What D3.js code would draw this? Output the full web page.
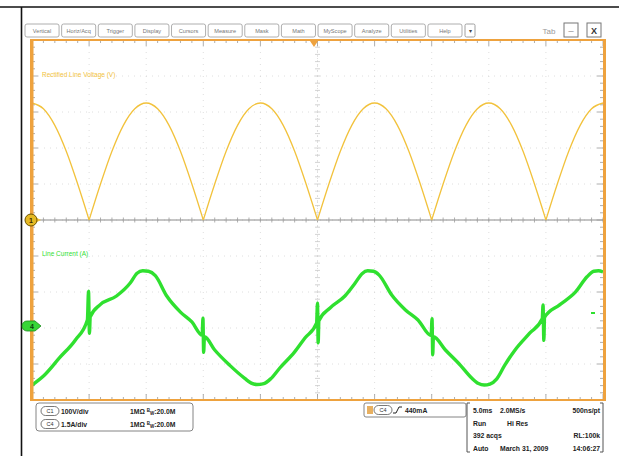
<!DOCTYPE html>
<html>
<head>
<meta charset="utf-8">
<script src="https://cdn.jsdelivr.net/npm/d3@7"></script>
<style>
  html, body { margin: 0; padding: 0; background: #fff; }
  svg { display: block; font-family: "Liberation Sans", Arial, sans-serif; }
</style>
</head>
<body>
<svg id="scope" width="619" height="456"></svg>
<script>
// ---- menu tabs ----
const tabLabels = ["Vertical", "Horiz/Acq", "Trigger", "Display", "Cursors", "Measure",
                   "Mask", "Math", "MyScope", "Analyze", "Utilities", "Help"];

// ---- channel 1: rectified line voltage (V), sampled every 1 ms ----
const ch1Time = d3.range(-25, 26, 1);
const ch1Volts = [
  325, 309, 263, 191, 100, 0, 100, 191, 263, 309,
  325, 309, 263, 191, 100, 0, 100, 191, 263, 309,
  325, 309, 263, 191, 100, 0, 100, 191, 263, 309,
  325, 309, 263, 191, 100, 0, 100, 191, 263, 309,
  325, 309, 263, 191, 100, 0, 100, 191, 263, 309,
  325
];

// ---- channel 4: line current (A) with switching glitches ----
const ch4Time = [
  -25.0, -23.9, -22.6, -21.2, -20.15, -20.05, -19.97, -19.9, -19.05, -17.6, -16.4, -15.8, -15.3,
  -14.8, -14.2, -13.2, -12.0, -11.0, -10.1, -10.03, -9.97, -9.9, -9.0, -7.7, -6.4, -5.8, -5.3,
  -4.7, -4.1, -3.3, -2.0, -1.1, -0.08, 0.0, 0.06, 0.12, 1.1, 2.4, 3.3, 3.9, 4.4,
  4.9, 5.4, 6.5, 7.7, 8.8, 9.95, 10.03, 10.09, 10.15, 11.2, 12.5, 13.5, 14.1, 14.6,
  15.1, 15.7, 16.4, 17.3, 18.6, 19.68, 19.75, 19.82, 19.88, 21.2, 22.6, 23.6, 24.2, 24.6, 25.0
];
const ch4Amps = [
  -2.46, -2.04, -1.33, -0.58, 0.25, 1.45, -0.30, 0.38, 0.88, 1.25, 1.79, 2.20, 2.30,
  2.28, 2.10, 1.25, 0.58, 0.17, -0.38, 0.33, -1.10, -0.45, -1.00, -1.63, -2.17, -2.38, -2.44,
  -2.40, -2.20, -1.75, -1.08, -0.50, 0.12, 0.95, -0.70, 0.22, 0.75, 1.25, 1.79, 2.18, 2.30,
  2.28, 2.12, 1.29, 0.67, 0.25, -0.40, 0.30, -1.20, -0.45, -1.00, -1.63, -2.17, -2.40, -2.46,
  -2.42, -2.20, -1.63, -1.00, -0.29, 0.30, 0.88, -0.60, 0.36, 0.88, 1.42, 2.05, 2.28, 2.30, 2.25
];

// ---- readouts ----
const chanReadouts = [
  { ch: "C1", scale: "100V/div", coupling: "1MΩ", bw: "20.0M" },
  { ch: "C4", scale: "1.5A/div", coupling: "1MΩ", bw: "20.0M" }
];
const trigReadout = { ch: "C4", level: "440mA" };
const acqRows = [
  ["5.0ms", "2.0MS/s", "500ns/pt"],
  ["Run", "Hi Res", ""],
  ["392 acqs", "", "RL:100k"],
  ["Auto", "March 31, 2009", "14:06:27"]
];

const ch1Label = "Rectified Line Voltage (V)";
const ch4Label = "Line Current (A)";

// ---- layout ----
const svg = d3.select("#scope");
const plot = { left: 32, right: 603, top: 40, bottom: 400 };
const orange = "#eea23e";
const yellow = "#f2c23c";
const green = "#2fe02f";

// outer cell rules
svg.append("line").attr("x1", 0).attr("x2", 619).attr("y1", 7).attr("y2", 7)
  .attr("stroke", "#111").attr("stroke-width", 1.6);
svg.append("line").attr("x1", 21.5).attr("x2", 21.5).attr("y1", 7).attr("y2", 456)
  .attr("stroke", "#111").attr("stroke-width", 1.6);

// scales: 10 x 10 graticule, 5 ms/div horizontally
const x = d3.scaleLinear().domain([-25, 25]).range([plot.left, plot.right]);
const divY = (plot.bottom - plot.top) / 10;
const yV = d3.scaleLinear().domain([-500, 500]).range([plot.bottom, plot.top]); // 100 V/div
const ch4Ground = 326;
const yI = d3.scaleLinear().domain([0, 1.5]).range([ch4Ground, ch4Ground - divY]); // 1.5 A/div

// ---- tab bar ----
const tabs = d3.scaleBand().domain(tabLabels).range([25, 462]).paddingInner(0.07);
const tabG = svg.append("g");
tabG.selectAll("rect").data(tabLabels).join("rect")
  .attr("x", d => tabs(d)).attr("y", 24).attr("width", tabs.bandwidth()).attr("height", 13)
  .attr("rx", 2).attr("fill", "#fff").attr("stroke", "#9a9a9a").attr("stroke-width", 0.8);
tabG.selectAll("text").data(tabLabels).join("text")
  .attr("x", d => tabs(d) + tabs.bandwidth() / 2).attr("y", 33)
  .attr("text-anchor", "middle").attr("font-size", 5.6).attr("fill", "#777").text(d => d);
svg.append("rect").attr("x", 465).attr("y", 24).attr("width", 10).attr("height", 13)
  .attr("rx", 1.5).attr("fill", "#fff").attr("stroke", "#888").attr("stroke-width", 0.8);
svg.append("text").attr("x", 470).attr("y", 33).attr("text-anchor", "middle")
  .attr("font-size", 6).attr("fill", "#444").text("▾");
svg.append("text").attr("x", 549).attr("y", 34).attr("text-anchor", "middle")
  .attr("font-size", 8).attr("fill", "#999").text("Tab");
[[564, "_"], [587, "X"]].forEach(([bx, s]) => {
  svg.append("rect").attr("x", bx).attr("y", 23).attr("width", 14).attr("height", 14)
    .attr("fill", "#fff").attr("stroke", "#777").attr("stroke-width", 1);
  svg.append("text").attr("x", bx + 7).attr("y", s === "_" ? 31 : 34).attr("text-anchor", "middle")
    .attr("font-size", 9).attr("font-weight", "bold").attr("fill", "#333").text(s);
});

// ---- graticule ----
const grid = svg.append("g");
const vDivs = d3.range(1, 10).map(i => x(-25 + i * 5));
const hDivs = d3.range(1, 10).map(i => plot.top + i * divY);
grid.selectAll(".gv").data(vDivs).join("line")
  .attr("x1", d => d).attr("x2", d => d).attr("y1", plot.top).attr("y2", plot.bottom)
  .attr("stroke", "#d6d6d6").attr("stroke-width", 0.8).attr("stroke-dasharray", "1,5");
grid.selectAll(".gh").data(hDivs).join("line")
  .attr("x1", plot.left).attr("x2", plot.right).attr("y1", d => d).attr("y2", d => d)
  .attr("stroke", "#d6d6d6").attr("stroke-width", 0.8).attr("stroke-dasharray", "1,5");

// centre crosshair with minor ticks
const cy = yV(0), cx = x(0);
grid.append("line").attr("x1", plot.left).attr("x2", plot.right).attr("y1", cy).attr("y2", cy)
  .attr("stroke", "#8a8a8a").attr("stroke-width", 1);
grid.append("line").attr("x1", cx).attr("x2", cx).attr("y1", plot.top).attr("y2", plot.bottom)
  .attr("stroke", "#dcdcdc").attr("stroke-width", 0.8).attr("stroke-dasharray", "2,3");
const minorX = d3.range(0, 51).map(i => x(-25 + i));
const minorY = d3.range(0, 51).map(i => plot.top + i * divY / 5);
grid.selectAll(".mx").data(minorX).join("line")
  .attr("x1", d => d).attr("x2", d => d).attr("y1", cy - 2.5).attr("y2", cy + 2.5)
  .attr("stroke", "#9a9a9a").attr("stroke-width", 0.8);
grid.selectAll(".my").data(minorY).join("line")
  .attr("x1", cx - 2.5).attr("x2", cx + 2.5).attr("y1", d => d).attr("y2", d => d)
  .attr("stroke", "#c8c8c8").attr("stroke-width", 0.8);

// frame edge ticks
const edge = svg.append("g").attr("stroke", "#999").attr("stroke-width", 0.8);
minorX.forEach((px, i) => {
  const len = i % 5 === 0 ? 6 : 3;
  edge.append("line").attr("x1", px).attr("x2", px).attr("y1", plot.top).attr("y2", plot.top + len);
  edge.append("line").attr("x1", px).attr("x2", px).attr("y1", plot.bottom).attr("y2", plot.bottom - len);
});
minorY.forEach((py, i) => {
  const len = i % 5 === 0 ? 6 : 3;
  edge.append("line").attr("x1", plot.left).attr("x2", plot.left + len).attr("y1", py).attr("y2", py);
  edge.append("line").attr("x1", plot.right).attr("x2", plot.right - len).attr("y1", py).attr("y2", py);
});

// ---- traces ----
const traces = svg.append("g");
// channel 1 drawn arch by arch so each zero stays a sharp cusp
const zeroIdx = ch1Volts.map((v, i) => v === 0 ? i : -1).filter(i => i >= 0);
const bounds = [0, ...zeroIdx, ch1Volts.length - 1];
const arches = [];
for (let k = 0; k < bounds.length - 1; k++) {
  arches.push(d3.range(bounds[k], bounds[k + 1] + 1).map(i => [ch1Time[i], ch1Volts[i]]));
}
const lineV = d3.line().x(d => x(d[0])).y(d => yV(d[1])).curve(d3.curveMonotoneX);
traces.selectAll(".arch").data(arches).join("path")
  .attr("d", lineV).attr("fill", "none").attr("stroke", yellow).attr("stroke-width", 1.3);

const lineI = d3.line().x(d => x(d[0])).y(d => yI(d[1])).curve(d3.curveMonotoneX);
const ch4Pts = ch4Time.map((t, i) => [t, ch4Amps[i]]);
traces.append("path").attr("d", lineI(ch4Pts)).attr("fill", "none")
  .attr("stroke", green).attr("stroke-width", 3.4).attr("stroke-linejoin", "round");
traces.append("line").attr("x1", 591).attr("x2", 595).attr("y1", 313).attr("y2", 313)
  .attr("stroke", green).attr("stroke-width", 2);

// trace labels
svg.append("text").attr("x", 42).attr("y", 77).attr("font-size", 6.5).attr("fill", yellow).text(ch1Label);
svg.append("text").attr("x", 42).attr("y", 256).attr("font-size", 6.5).attr("fill", green).text(ch4Label);

// ---- frame ----
svg.append("line").attr("x1", plot.left).attr("x2", plot.right + 2).attr("y1", plot.top).attr("y2", plot.top)
  .attr("stroke", orange).attr("stroke-width", 2);
svg.append("line").attr("x1", plot.left).attr("x2", plot.right + 2).attr("y1", plot.bottom).attr("y2", plot.bottom)
  .attr("stroke", orange).attr("stroke-width", 2);
svg.append("rect").attr("x", plot.left - 2).attr("y", plot.top - 1).attr("width", 3.5).attr("height", plot.bottom - plot.top + 2)
  .attr("fill", orange);
svg.append("rect").attr("x", plot.right).attr("y", plot.top - 1).attr("width", 3).attr("height", plot.bottom - plot.top + 2)
  .attr("fill", orange);
// trigger position marker
svg.append("path").attr("d", d3.line()([[310, 41], [318, 41], [314, 47]]) + "Z").attr("fill", orange);

// channel ground markers
const m1 = svg.append("g").attr("transform", `translate(31,${yV(0)})`);
m1.append("path").attr("d", "M4,-3 L10,0 L4,3Z").attr("fill", yellow);
m1.append("circle").attr("r", 6).attr("fill", "#e6b923").attr("stroke", "#6b5200").attr("stroke-width", 1);
m1.append("text").attr("y", 2.5).attr("text-anchor", "middle").attr("font-size", 7).attr("font-weight", "bold")
  .attr("fill", "#3a2c00").text("1");
const m4 = svg.append("g").attr("transform", `translate(31,${ch4Ground})`);
m4.append("path").attr("d", "M-4,-5 L4,-5 L10,0 L4,5 L-4,5 A5,5 0 0 1 -4,-5Z")
  .attr("fill", "#37d637").attr("stroke", "#1d8a1d").attr("stroke-width", 0.8);
m4.append("text").attr("x", 1).attr("y", 2.5).attr("text-anchor", "middle").attr("font-size", 7)
  .attr("font-weight", "bold").attr("fill", "#0b3d0b").text("4");

// ---- readout boxes ----
const txt = { size: 6.8, color: "#222" };
function capsule(g, cx0, cy0, label) {
  g.append("rect").attr("x", cx0 - 9).attr("y", cy0 - 4.5).attr("width", 18).attr("height", 9)
    .attr("rx", 4.5).attr("fill", "#fff").attr("stroke", "#555").attr("stroke-width", 0.8);
  g.append("text").attr("x", cx0).attr("y", cy0 + 2.3).attr("text-anchor", "middle")
    .attr("font-size", 5.5).attr("fill", "#333").text(label);
}
const chanBox = svg.append("g");
chanBox.append("rect").attr("x", 36).attr("y", 403).attr("width", 157).attr("height", 28)
  .attr("rx", 3).attr("fill", "#fff").attr("stroke", "#777").attr("stroke-width", 0.9);
chanReadouts.forEach((r, i) => {
  const ry = 411 + i * 13;
  capsule(chanBox, 50, ry, r.ch);
  chanBox.append("text").attr("x", 61).attr("y", ry + 2.5).attr("font-size", txt.size)
    .attr("font-weight", "bold").attr("fill", txt.color).text(r.scale);
  const t = chanBox.append("text").attr("x", 130).attr("y", ry + 2.5).attr("font-size", txt.size)
    .attr("font-weight", "bold").attr("fill", txt.color);
  t.append("tspan").text(r.coupling + " ");
  t.append("tspan").attr("font-size", 4.5).attr("dy", -2).text("B");
  t.append("tspan").attr("font-size", 4.5).attr("dy", 3).text("W");
  t.append("tspan").attr("dy", -1).text(":" + r.bw);
});

const trigBox = svg.append("g");
trigBox.append("rect").attr("x", 364).attr("y", 403).attr("width", 102).attr("height", 14)
  .attr("rx", 2).attr("fill", "#fff").attr("stroke", "#777").attr("stroke-width", 0.9);
trigBox.append("rect").attr("x", 367).attr("y", 406).attr("width", 6).attr("height", 8).attr("fill", "#e8b060");
capsule(trigBox, 383, 410, trigReadout.ch);
trigBox.append("path").attr("d", "M393,413 L396,413 L399,407 L402,407").attr("fill", "none")
  .attr("stroke", "#222").attr("stroke-width", 1);
trigBox.append("text").attr("x", 405).attr("y", 412.5).attr("font-size", txt.size).attr("font-weight", "bold")
  .attr("fill", txt.color).text(trigReadout.level);

const acqBox = svg.append("g");
acqBox.append("path").attr("d", "M470,403 L467,403 L467,452 L470,452 M600,403 L603,403 L603,452 L600,452")
  .attr("fill", "none").attr("stroke", "#555").attr("stroke-width", 1);
const colX = [473, 500, 600];
acqRows.forEach((row, i) => {
  const ry = 413 + i * 12.5;
  row.forEach((s, j) => {
    if (!s) return;
    acqBox.append("text").attr("x", j === 1 && i === 1 ? 507 : colX[j]).attr("y", ry)
      .attr("text-anchor", j === 2 ? "end" : "start")
      .attr("font-size", txt.size).attr("font-weight", "bold").attr("fill", txt.color).text(s);
  });
});
</script>
</body>
</html>
